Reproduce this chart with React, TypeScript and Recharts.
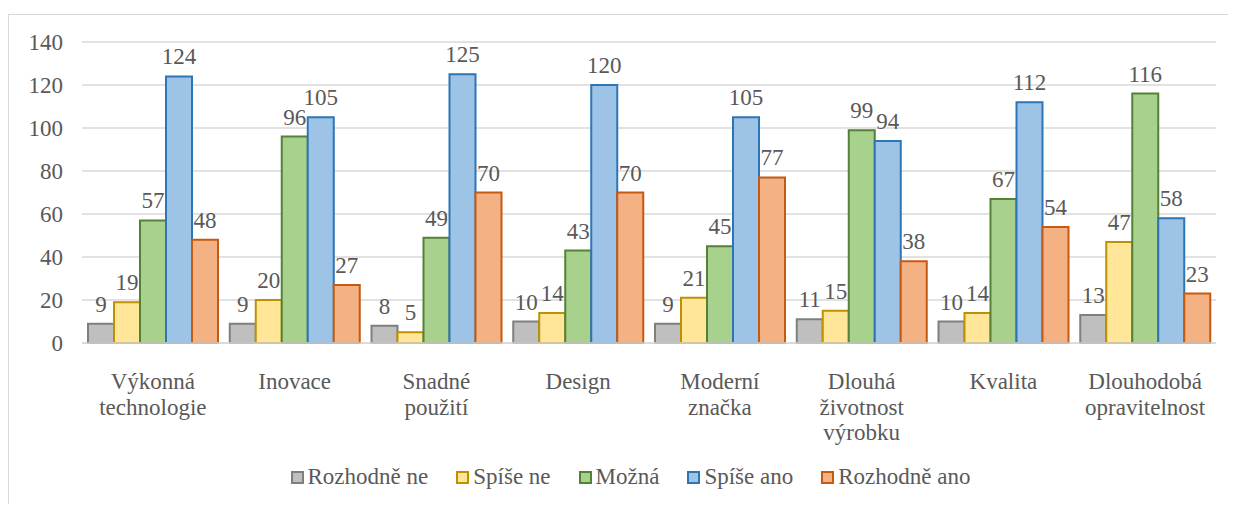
import React from 'react';
import { BarChart, Bar, XAxis, YAxis, CartesianGrid, Legend, LabelList } from 'recharts';

const categories = ['Výkonná technologie', 'Inovace', 'Snadné použití', 'Design', 'Moderní značka', 'Dlouhá životnost výrobku', 'Kvalita', 'Dlouhodobá opravitelnost'];
const rozhodneNe = [9, 9, 8, 10, 9, 11, 10, 13];
const spiseNe = [19, 20, 5, 14, 21, 15, 14, 47];
const mozna = [57, 96, 49, 43, 45, 99, 67, 116];
const spiseAno = [124, 105, 125, 120, 105, 94, 112, 58];
const rozhodneAno = [48, 27, 70, 70, 77, 38, 54, 23];
const yTicks = [0, 20, 40, 60, 80, 100, 120, 140];

const seriesDefs = [
  { key: 'rn', name: 'Rozhodně ne', values: rozhodneNe, fill: '#bfbfbf', stroke: '#7f7f7f' },
  { key: 'sn', name: 'Spíše ne', values: spiseNe, fill: '#ffe699', stroke: '#bf9000' },
  { key: 'mo', name: 'Možná', values: mozna, fill: '#a9d18e', stroke: '#548235' },
  { key: 'sa', name: 'Spíše ano', values: spiseAno, fill: '#9dc3e6', stroke: '#2e75b6' },
  { key: 'ra', name: 'Rozhodně ano', values: rozhodneAno, fill: '#f4b183', stroke: '#c55a11' },
];

const data = categories.map((c, i) => {
  const row: Record<string, any> = { name: c };
  seriesDefs.forEach((s) => { row[s.key] = s.values[i]; });
  return row;
});

const FONT = 'Liberation Serif, DejaVu Serif, serif';
const TEXT = '#595959';
const FS = 23;

const CatTick = (props: any) => {
  const { x, y, payload } = props;
  const words = String(payload.value).split(' ');
  return (
    <g transform={`translate(${x},${y})`}>
      {words.map((w, i) => (
        <text key={i} x={0} y={30 + i * 25.5} dy="0.35em" textAnchor="middle" fill={TEXT} style={{ fontFamily: FONT, fontSize: FS }}>{w}</text>
      ))}
    </g>
  );
};

const LegendContent = () => (
  <div style={{ display: 'flex', justifyContent: 'center', alignItems: 'center', height: 30, gap: 28, marginLeft: 36, fontFamily: FONT, fontSize: FS, color: TEXT }}>
    {seriesDefs.map((s) => (
      <div key={s.key} style={{ display: 'flex', alignItems: 'center' }}>
        <span style={{ display: 'inline-block', width: 9, height: 9, background: s.fill, border: `2px solid ${s.stroke}`, marginRight: 4 }} />
        <span>{s.name}</span>
      </div>
    ))}
  </div>
);

export default function App() {
  return (
    <div style={{ position: 'relative', top: 6, width: 1226, height: 494, border: '1px solid #d9d9d9', background: '#fff', fontFamily: FONT }}>
      <BarChart width={1226} height={494} data={data} margin={{ top: 27, right: 19, bottom: 17, left: 0 }} barGap={0} barCategoryGap={6} style={{ fontFamily: FONT }}>
        <CartesianGrid vertical={false} stroke="#d9d9d9" strokeWidth={1.5} />
        <XAxis dataKey="name" height={119} tick={<CatTick />} tickLine={false} axisLine={{ stroke: '#d9d9d9', strokeWidth: 1.5 }} interval={0} />
        <YAxis width={73} domain={[0, 140]} ticks={yTicks} tickSize={0} tickMargin={19} axisLine={false} tick={{ fill: TEXT, fontSize: FS, fontFamily: FONT, style: { fontFamily: FONT } }} />
        <Legend verticalAlign="bottom" height={30} content={<LegendContent />} />
        {seriesDefs.map((s) => (
          <Bar key={s.key} dataKey={s.key} name={s.name} fill={s.fill} stroke={s.stroke} strokeWidth={2} isAnimationActive={false}>
            <LabelList dataKey={s.key} position="top" offset={12} fill={TEXT} fontSize={FS} fontFamily={FONT} style={{ fontFamily: FONT }} />
          </Bar>
        ))}
      </BarChart>
    </div>
  );
}
